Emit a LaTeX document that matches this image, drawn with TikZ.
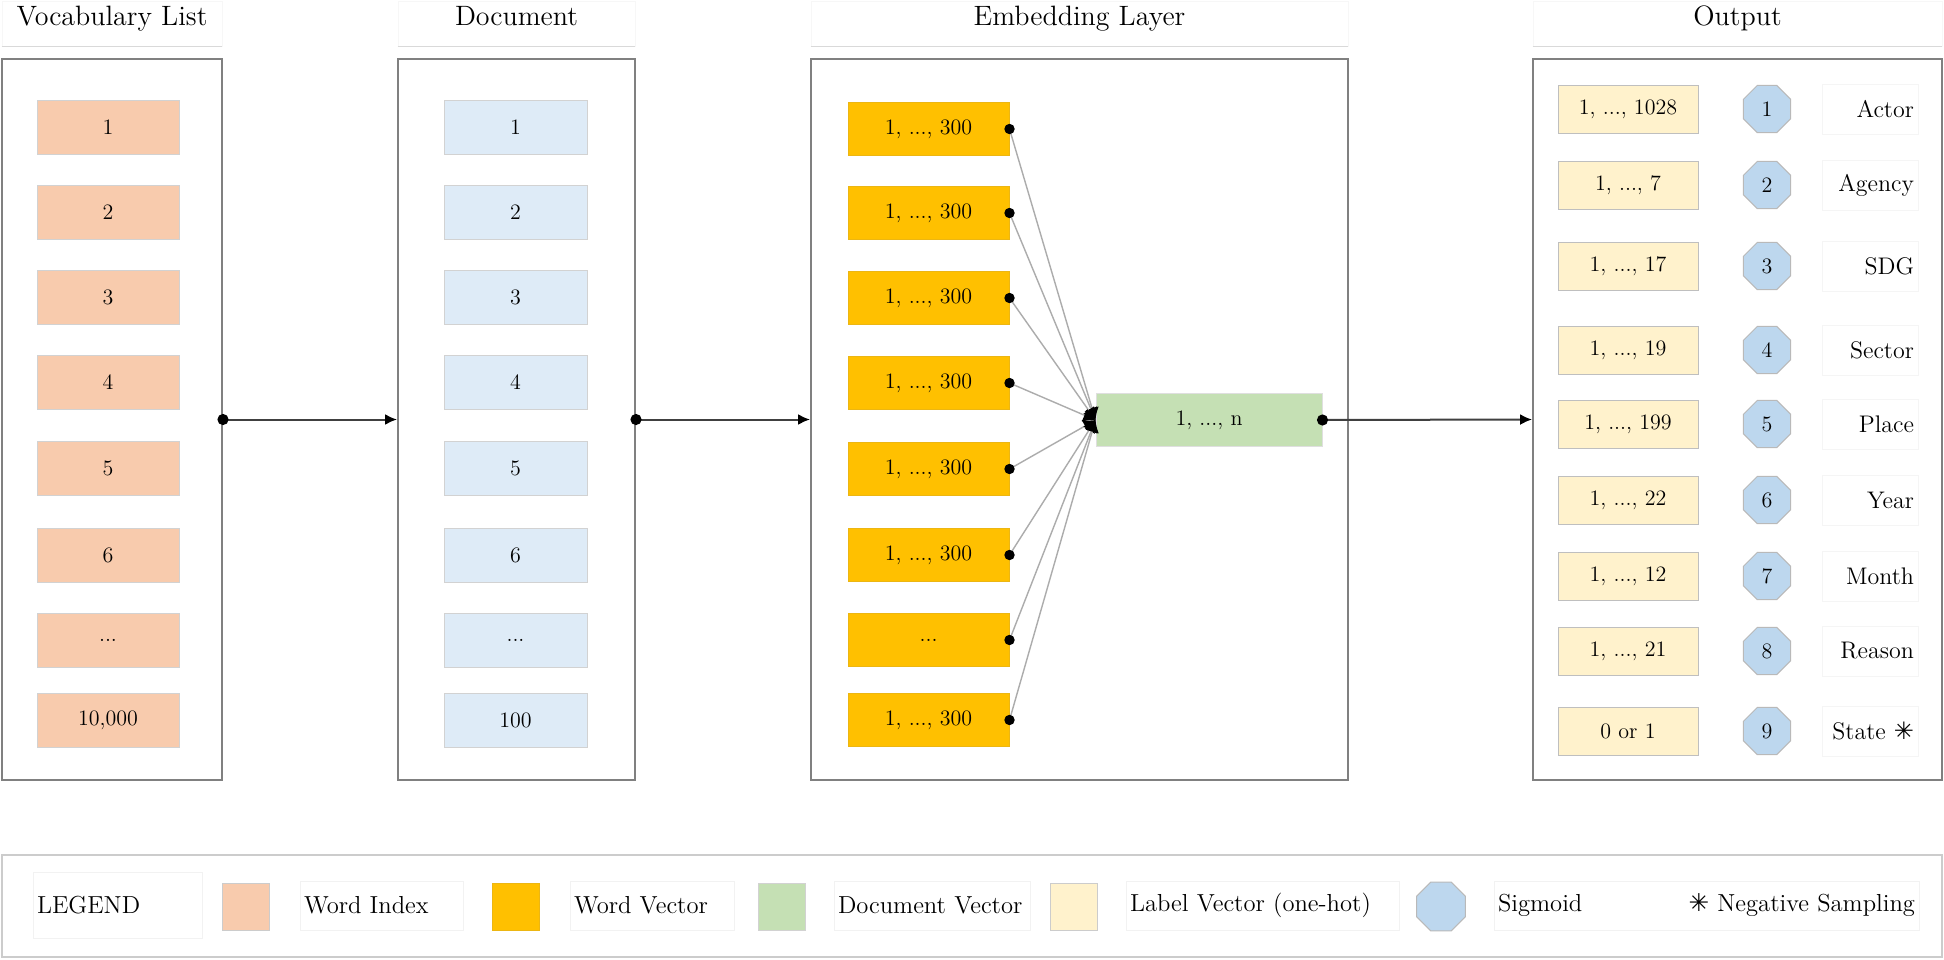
\documentclass[tikz,border=0pt]{standalone}
\usepackage{fontspec}
\newfontfamily\symfont{DejaVu Sans}
\usetikzlibrary{arrows.meta,shapes.geometric}
\definecolor{peach}{HTML}{F8CBAD}
\definecolor{docblue}{HTML}{DEEBF7}
\definecolor{gold}{HTML}{FFC000}
\definecolor{dvgreen}{HTML}{C5E0B4}
\definecolor{cream}{HTML}{FFF2CC}
\definecolor{octblue}{HTML}{BDD7EE}
\definecolor{panelgray}{HTML}{808080}
\newcommand{\negsym}{{\symfont ✳}}
\begin{document}
\begin{tikzpicture}[x=0.5pt,y=-0.5pt,
  panel/.style={rectangle,draw=panelgray,line width=1pt,inner sep=0pt,minimum height=360.5pt},
  titlebox/.style={rectangle,draw=gray!6,fill=white,inner sep=0pt,minimum height=22.5pt},
  titleline/.style={draw=gray!30,line width=0.6pt},
  titletext/.style={anchor=base,inner sep=0pt,font=\fontsize{14}{16}\selectfont},
  cell/.style={rectangle,inner sep=0pt,line width=0.5pt,font=\fontsize{11}{13}\selectfont},
  vocabcell/.style={cell,fill=peach,draw=gray!35,minimum width=71pt,minimum height=27pt},
  doccell/.style={cell,fill=docblue,draw=gray!35,minimum width=71.5pt,minimum height=27pt},
  wvcell/.style={cell,fill=gold,draw=gold!85!gray,minimum width=80.5pt,minimum height=26.5pt},
  dvcell/.style={cell,fill=dvgreen,draw=gray!25,minimum width=113pt,minimum height=26.5pt},
  lvcell/.style={cell,fill=cream,draw=gray!50,minimum width=70pt,minimum height=24pt},
  sig/.style={regular polygon,regular polygon sides=8,fill=octblue,draw=gray!55,line width=0.5pt,inner sep=0pt,minimum size=25.5pt,font=\fontsize{11}{13}\selectfont},
  namebox/.style={rectangle,draw=gray!8,inner xsep=2pt,inner ysep=0pt,minimum height=25pt,text width=44pt,align=right,font=\fontsize{12}{14}\selectfont},
  legtext/.style={rectangle,draw=gray!10,fill=white,inner xsep=2pt,inner ysep=0pt,minimum height=24.5pt,align=left,font=\fontsize{12.3}{14}\selectfont},
  swatch/.style={rectangle,inner sep=0pt,minimum size=23.5pt,line width=0.5pt},
  flow/.style={draw=black!75,line width=1pt,-{Latex[length=6pt,width=5.5pt,color=black]}},
  fan/.style={draw=gray!65,line width=0.7pt,-{Latex[length=6pt,width=7pt,color=black]}}
]
\useasboundingbox (0,0) rectangle (1944,959);
\fill[white] (0,0) rectangle (1944,959);

% title boxes
\node[titlebox,minimum width=110pt] (vt) at (112,23.5) {};
\node[titlebox,minimum width=118.5pt] (dt) at (516.5,23.5) {};
\node[titlebox,minimum width=268.5pt] (et) at (1079.5,23.5) {};
\node[titlebox,minimum width=204.5pt] (ot) at (1737.5,23.5) {};
\draw[titleline] (vt.south west) -- (vt.south east);
\draw[titleline] (dt.south west) -- (dt.south east);
\draw[titleline] (et.south west) -- (et.south east);
\draw[titleline] (ot.south west) -- (ot.south east);
\node[titletext] (vtt) at (112,25) {Vocabulary List};
\node[titletext] (dtt) at (516.5,25) {Document};
\node[titletext] (ett) at (1079.5,25) {Embedding Layer};
\node[titletext] (ott) at (1737.5,25) {Output};

% panels
\node[panel,minimum width=110pt] (vp) at (112,419.5) {};
\node[panel,minimum width=118.5pt] (dp) at (516.5,419.5) {};
\node[panel,minimum width=268.5pt] (ep) at (1079.5,419.5) {};
\node[panel,minimum width=204.5pt] (op) at (1737.5,419.5) {};

% vocabulary list
\foreach \y/\t [count=\i] in {127/1,212/2,297/3,382/4,468/5,555/6,640/{...},720/{10,000}}
  \node[vocabcell] (v\i) at (108,\y) {\t};

% document
\foreach \y/\t [count=\i] in {127/1,212/2,297/3,382/4,468/5,555/6,640/{...},720/100}
  \node[doccell] (d\i) at (515.5,\y) {\t};

% embedding layer
\node[dvcell] (g) at (1209,420) {1, ..., n};
\foreach \y/\t [count=\i] in {129/{1, ..., 300},213/{1, ..., 300},298/{1, ..., 300},383/{1, ..., 300},469/{1, ..., 300},555/{1, ..., 300},640/{...},720/{1, ..., 300}}
  \node[wvcell] (e\i) at (928.5,\y) {\t};
\foreach \i in {1,...,8}
  \draw[fan] (e\i.east) -- (g.west);
\foreach \i in {1,...,8}
  \fill (e\i.east) circle[radius=2.6pt];

% output
\foreach \y/\t/\n/\l [count=\i] in {109/{1, ..., 1028}/1/Actor,185/{1, ..., 7}/2/Agency,266/{1, ..., 17}/3/SDG,350/{1, ..., 19}/4/Sector,424/{1, ..., 199}/5/Place,500/{1, ..., 22}/6/Year,576/{1, ..., 12}/7/Month,651/{1, ..., 21}/8/Reason,731/{0 or 1}/9/{State \negsym}}
{
  \node[lvcell] (lv\i) at (1628,\y) {\t};
  \node[sig] (s\i) at (1767,\y) {\n};
  \node[namebox] (nm\i) at (1870,\y) {\l};
}

% flow connectors
\draw[flow] (vp.east) -- (dp.west);
\fill (vp.east) circle[radius=2.8pt];
\draw[flow] (dp.east) -- (ep.west);
\fill (dp.east) circle[radius=2.8pt];
\draw[flow] (g.east) -- (op.west);
\fill (g.east) circle[radius=2.8pt];

% legend
\node[rectangle,draw=gray!40,line width=0.8pt,inner sep=0pt,minimum width=970pt,minimum height=51pt] (leg) at (972,906) {};
\node[legtext,text width=80.5pt,minimum height=33pt] (lg0) at (117.5,905) {LEGEND};
\node[swatch,fill=peach,draw=gray!40] (sw1) at (245.5,906.5) {};
\node[legtext,text width=77.5pt] (lg1) at (381.5,905.5) {Word Index};
\node[swatch,fill=gold,draw=gold!85!gray] (sw2) at (515.5,906.5) {};
\node[legtext,text width=78pt] (lg2) at (652,905.5) {Word Vector};
\node[swatch,fill=dvgreen,draw=gray!35] (sw3) at (781.5,906.5) {};
\node[legtext,text width=94pt] (lg3) at (932,905.5) {Document Vector};
\node[swatch,fill=cream,draw=gray!40] (sw4) at (1073.5,906.5) {};
\node[legtext,text width=132.5pt] (lg4) at (1262.5,905.5) {Label Vector (one-hot)};
\node[sig,minimum size=26.5pt] (sw5) at (1441,906.5) {};
\node[legtext,text width=208.5pt] (lg5) at (1706.5,905.5) {Sigmoid\hfill\negsym\ Negative Sampling};
\end{tikzpicture}
\end{document}
